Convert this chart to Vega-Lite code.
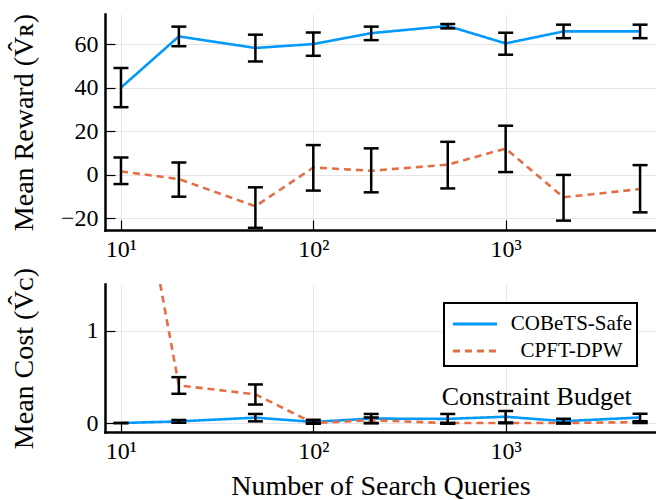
{
  "$schema": "https://vega.github.io/schema/vega-lite/v6.json",
  "padding": {"left": 10, "top": 13, "right": 0, "bottom": 0},
  "spacing": 6,
  "resolve": {"scale": {"color": "independent", "strokeDash": "independent"}},
  "config": {
    "font": "Liberation Serif",
    "view": {"stroke": null},
    "axis": {
      "domainColor": "black", "domainWidth": 2.5, "domainCap": "square",
      "tickColor": "black", "tickWidth": 1.2, "tickSize": -10,
      "gridColor": "#e6e6e6", "gridWidth": 1,
      "labelFont": "Liberation Serif", "labelFontSize": 24, "labelColor": "black", "labelPadding": 17,
      "titleFont": "Liberation Serif", "titleFontSize": 28, "titleFontWeight": "normal", "titleColor": "black"
    },
    "axisY": {"minExtent": 60, "maxExtent": 60, "titlePadding": 7},
    "axisX": {"titlePadding": 9},
    "legend": {"strokeColor": "black", "strokeWidth": 2, "fillColor": "white", "labelFont": "Liberation Serif"}
  },
  "datasets": {
    "reward": [
      {"method": "COBeTS-Safe", "q": 10, "mean": 40, "lo": 31, "hi": 49},
      {"method": "COBeTS-Safe", "q": 20, "mean": 63.5, "lo": 59, "hi": 68},
      {"method": "COBeTS-Safe", "q": 50, "mean": 58.2, "lo": 52, "hi": 64.3},
      {"method": "COBeTS-Safe", "q": 100, "mean": 60, "lo": 54.6, "hi": 65.3},
      {"method": "COBeTS-Safe", "q": 200, "mean": 65, "lo": 61.8, "hi": 68},
      {"method": "COBeTS-Safe", "q": 500, "mean": 68.3, "lo": 67.2, "hi": 69.2},
      {"method": "COBeTS-Safe", "q": 1000, "mean": 60.3, "lo": 55.1, "hi": 65.2},
      {"method": "COBeTS-Safe", "q": 2000, "mean": 65.8, "lo": 62.7, "hi": 68.9},
      {"method": "COBeTS-Safe", "q": 5000, "mean": 65.8, "lo": 62.7, "hi": 68.9},
      {"method": "CPFT-DPW", "q": 10, "mean": 1.5, "lo": -4.3, "hi": 7.9},
      {"method": "CPFT-DPW", "q": 20, "mean": -2, "lo": -10.1, "hi": 5.6},
      {"method": "CPFT-DPW", "q": 50, "mean": -14.5, "lo": -24.4, "hi": -5.8},
      {"method": "CPFT-DPW", "q": 100, "mean": 3.3, "lo": -7.3, "hi": 13.6},
      {"method": "CPFT-DPW", "q": 200, "mean": 1.8, "lo": -8.1, "hi": 12.1},
      {"method": "CPFT-DPW", "q": 500, "mean": 4.6, "lo": -6.3, "hi": 15.1},
      {"method": "CPFT-DPW", "q": 1000, "mean": 12, "lo": 1.2, "hi": 22.5},
      {"method": "CPFT-DPW", "q": 2000, "mean": -10.4, "lo": -21.1, "hi": -0.1},
      {"method": "CPFT-DPW", "q": 5000, "mean": -6.6, "lo": -17.3, "hi": 4.4}
    ],
    "cost": [
      {"method": "COBeTS-Safe", "q": 10, "mean": 0, "lo": 0, "hi": 0},
      {"method": "COBeTS-Safe", "q": 20, "mean": 0.018, "lo": 0.003, "hi": 0.033},
      {"method": "COBeTS-Safe", "q": 50, "mean": 0.058, "lo": 0.018, "hi": 0.098},
      {"method": "COBeTS-Safe", "q": 100, "mean": 0.012, "lo": -0.008, "hi": 0.035},
      {"method": "COBeTS-Safe", "q": 200, "mean": 0.048, "lo": -0.002, "hi": 0.098},
      {"method": "COBeTS-Safe", "q": 500, "mean": 0.045, "lo": -0.008, "hi": 0.098},
      {"method": "COBeTS-Safe", "q": 1000, "mean": 0.068, "lo": 0.005, "hi": 0.13},
      {"method": "COBeTS-Safe", "q": 2000, "mean": 0.02, "lo": -0.005, "hi": 0.046},
      {"method": "COBeTS-Safe", "q": 5000, "mean": 0.06, "lo": 0.01, "hi": 0.1},
      {"method": "CPFT-DPW", "q": 10, "mean": 3.8, "lo": 3.7, "hi": 3.9},
      {"method": "CPFT-DPW", "q": 20, "mean": 0.407, "lo": 0.316, "hi": 0.496},
      {"method": "CPFT-DPW", "q": 50, "mean": 0.31, "lo": 0.2, "hi": 0.417},
      {"method": "CPFT-DPW", "q": 100, "mean": 0.0, "lo": -0.005, "hi": 0.005},
      {"method": "CPFT-DPW", "q": 200, "mean": 0.03, "lo": 0.0, "hi": 0.06},
      {"method": "CPFT-DPW", "q": 500, "mean": 0.0, "lo": 0.0, "hi": 0.0},
      {"method": "CPFT-DPW", "q": 1000, "mean": 0.0, "lo": 0.0, "hi": 0.0},
      {"method": "CPFT-DPW", "q": 2000, "mean": 0.0, "lo": 0.0, "hi": 0.0},
      {"method": "CPFT-DPW", "q": 5000, "mean": 0.01, "lo": 0.0, "hi": 0.02}
    ]
  },
  "vconcat": [
    {
      "width": 551, "height": 216,
      "data": {"name": "reward"},
      "encoding": {
        "x": {"field": "q", "type": "quantitative", "title": null,
          "scale": {"type": "log", "domain": [8.26, 6050], "nice": false},
          "axis": {"values": [10, 100, 1000], "labelExpr": "datum.value == 10 ? '10¹' : datum.value == 100 ? '10²' : '10³'"}}
      },
      "layer": [
        {"mark": {"type": "line", "strokeWidth": 2.6, "clip": true},
         "encoding": {
           "y": {"field": "mean", "type": "quantitative", "title": "Mean Reward (V̂ʀ)",
             "scale": {"domain": [-25.4, 73.8], "nice": false, "zero": false},
             "axis": {"values": [-20, 0, 20, 40, 60]}},
           "color": {"field": "method", "type": "nominal", "scale": {"domain": ["COBeTS-Safe", "CPFT-DPW"], "range": ["#009AFA", "#E36F47"]}, "legend": null},
           "strokeDash": {"field": "method", "type": "nominal", "scale": {"domain": ["COBeTS-Safe", "CPFT-DPW"], "range": [[1, 0], [7, 5]]}, "legend": null}
         }},
        {"mark": {"type": "rule", "color": "black", "strokeWidth": 2.5, "clip": true},
         "encoding": {"y": {"field": "lo", "type": "quantitative", "title": "Mean Reward (V̂ʀ)"}, "y2": {"field": "hi"}}},
        {"mark": {"type": "tick", "orient": "horizontal", "color": "black", "thickness": 2.5, "size": 15, "opacity": 1, "clip": true},
         "encoding": {"y": {"field": "lo", "type": "quantitative", "title": "Mean Reward (V̂ʀ)"}}},
        {"mark": {"type": "tick", "orient": "horizontal", "color": "black", "thickness": 2.5, "size": 15, "opacity": 1, "clip": true},
         "encoding": {"y": {"field": "hi", "type": "quantitative", "title": "Mean Reward (V̂ʀ)"}}}
      ]
    },
    {
      "width": 551, "height": 148,
      "layer": [
        {"data": {"name": "cost"},
         "mark": {"type": "line", "strokeWidth": 2.6, "clip": true},
         "encoding": {
           "x": {"field": "q", "type": "quantitative", "title": "Number of Search Queries",
             "scale": {"type": "log", "domain": [8.26, 6050], "nice": false},
             "axis": {"values": [10, 100, 1000], "labelExpr": "datum.value == 10 ? '10¹' : datum.value == 100 ? '10²' : '10³'"}},
           "y": {"field": "mean", "type": "quantitative", "title": "Mean Cost (V̂ᴄ)",
             "scale": {"domain": [-0.097, 1.503], "nice": false, "zero": false},
             "axis": {"values": [0, 1], "format": "d"}},
           "color": {"field": "method", "type": "nominal", "scale": {"domain": ["COBeTS-Safe", "CPFT-DPW"], "range": ["#009AFA", "#E36F47"]},
             "legend": {"title": null, "orient": "top-right", "offset": 19,
               "padding": 4.5, "rowPadding": 0, "labelFont": "Liberation Serif", "labelFontSize": 21, "labelColor": "black",
               "symbolType": "M-1.47,0H1.47", "symbolStrokeWidth": 3, "symbolSize": 900, "symbolOffset": 10, "labelAlign": "center", "labelOffset": 80}},
           "strokeDash": {"field": "method", "type": "nominal", "scale": {"domain": ["COBeTS-Safe", "CPFT-DPW"], "range": [[1, 0], [7, 5]]},
             "legend": {"title": null, "orient": "top-right", "offset": 19,
               "padding": 4.5, "rowPadding": 0, "labelFont": "Liberation Serif", "labelFontSize": 21, "labelColor": "black",
               "symbolType": "M-1.47,0H1.47", "symbolStrokeWidth": 3, "symbolSize": 900, "symbolOffset": 10, "labelAlign": "center", "labelOffset": 80}}
         }},
        {"data": {"name": "cost"},
         "mark": {"type": "rule", "color": "black", "strokeWidth": 2.5, "clip": true},
         "encoding": {"x": {"field": "q", "type": "quantitative", "title": "Number of Search Queries"}, "y": {"field": "lo", "type": "quantitative", "title": "Mean Cost (V̂ᴄ)"}, "y2": {"field": "hi"}}},
        {"data": {"name": "cost"},
         "mark": {"type": "tick", "orient": "horizontal", "color": "black", "thickness": 2.5, "size": 15, "opacity": 1, "clip": true},
         "encoding": {"x": {"field": "q", "type": "quantitative", "title": "Number of Search Queries"}, "y": {"field": "lo", "type": "quantitative", "title": "Mean Cost (V̂ᴄ)"}}},
        {"data": {"name": "cost"},
         "mark": {"type": "tick", "orient": "horizontal", "color": "black", "thickness": 2.5, "size": 15, "opacity": 1, "clip": true},
         "encoding": {"x": {"field": "q", "type": "quantitative", "title": "Number of Search Queries"}, "y": {"field": "hi", "type": "quantitative", "title": "Mean Cost (V̂ᴄ)"}}},
        {"mark": {"type": "rule", "color": "black", "strokeWidth": 2.5, "strokeDash": [8, 5]},
         "encoding": {"y": {"datum": 0.1, "type": "quantitative"}}},
        {"data": {"values": [{"q": 1450, "v": 0.1, "label": "Constraint Budget"}]},
         "mark": {"type": "text", "font": "Liberation Serif", "fontSize": 26, "baseline": "alphabetic", "align": "center", "dy": -9, "color": "black"},
         "encoding": {"x": {"field": "q", "type": "quantitative", "title": "Number of Search Queries"}, "y": {"field": "v", "type": "quantitative", "title": "Mean Cost (V̂ᴄ)"}, "text": {"field": "label"}}}
      ]
    }
  ]
}
